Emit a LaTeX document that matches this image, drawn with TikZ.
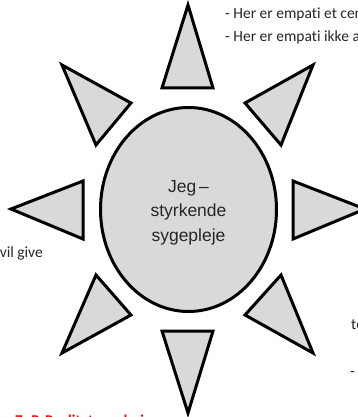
\documentclass[tikz,border=0pt]{standalone}
\usepackage{fontspec}
\usetikzlibrary{shapes.geometric}
\setmainfont{Carlito}[Ligatures=NoCommon]
\newfontfamily\arialf{Liberation Sans}
\definecolor{rayfill}{HTML}{D9D9D9}
\definecolor{headred}{HTML}{FF0000}
\tikzset{
  ray/.style={draw=black, fill=rayfill, line width=3pt, line join=miter},
  sideText/.style={font=\fontsize{15.5}{18}\selectfont, inner sep=0pt, text=black!85},
  redText/.style={font=\fontsize{15}{18}\selectfont\bfseries, inner sep=0pt, text=headred},
}
\begin{document}
\begin{tikzpicture}[x=1pt,y=-1pt]
\useasboundingbox (0,0) rectangle (358,417);
\clip (0,0) rectangle (358,417);
% rays
\draw[ray] (188,5) -- (213,88) -- (162,88) -- cycle;
\draw[ray] (188,413) -- (213,331) -- (162,331) -- cycle;
\draw[ray] (11,209) -- (83,181) -- (83,239) -- cycle;
\draw[ray] (365,209) -- (293,181) -- (293,239) -- cycle;
\draw[ray] (62,65) -- (131,103) -- (96,145) -- cycle;
\draw[ray] (313,65) -- (245,103) -- (281,145) -- cycle;
\draw[ray] (62,353) -- (131,315) -- (96,275) -- cycle;
\draw[ray] (313,353) -- (245,315) -- (281,275) -- cycle;
% centre
\node[ray, ellipse, minimum width=176pt, minimum height=204pt, inner sep=0pt] (sun) at (188.5,209.5) {};
\node[align=center, font=\arialf\fontsize{17.5}{24.5}\selectfont, text=black!85, inner sep=0pt] (suntext) at (188.5,212.5)
  {Jeg\,–\\styrkende\\sygepleje};
% texts
\node[redText, anchor=base west] (h1) at (262,-4) {Empati og sympati};
\node[sideText, anchor=base west] (t1) at (225,19) {- Her er empati et centralt begreb};
\node[sideText, anchor=base west] (t2) at (225,42) {- Her er empati ikke afgørende};
\node[sideText, anchor=base east] (t3) at (43,257) {vil give};
\node[sideText, anchor=base west] (t4) at (351,329) {to};
\node[sideText, anchor=base west] (t5) at (350,376) {- et};
\node[redText, anchor=north west] (h2) at (15,414.5) {7. P. Realitetsvurdering};
\end{tikzpicture}
\end{document}
